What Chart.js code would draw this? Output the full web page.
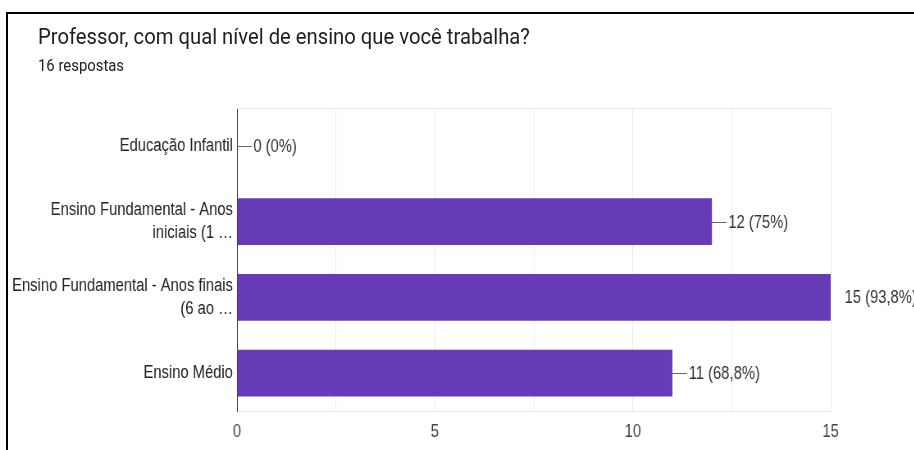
<!DOCTYPE html>
<html>
<head>
<meta charset="utf-8">
<script src="https://cdn.jsdelivr.net/npm/chart.js@4"></script>
<style>
  html, body { margin: 0; padding: 0; background: #fff; }
  #pagina { position: relative; width: 914px; height: 450px; overflow: hidden; }
  #moldura { position: absolute; left: 6px; top: 12px; right: -10px; bottom: -10px;
             border-top: 2px solid #000; border-left: 2px solid #000; }
  #titulo { position: absolute; left: 38px; top: 26px; font-family: Roboto, sans-serif;
            font-size: 22px; line-height: 22px; color: #202124; white-space: nowrap;
            transform: scaleX(0.92); transform-origin: left top; }
  #respostas { position: absolute; left: 38px; top: 58px; font-family: Roboto, sans-serif;
               font-size: 16px; line-height: 16px; color: #202124; white-space: nowrap;
               transform: scaleX(0.93); transform-origin: left top; }
  /* a imagem original está comprimida na horizontal, por isso o canvas é mais largo e encolhido */
  #grafico { position: absolute; left: 0; top: 0; width: 1115px; height: 450px;
             transform: scaleX(0.82); transform-origin: left top; }
</style>
</head>
<body>
<div id="pagina">
  <canvas id="grafico" width="1115" height="450"></canvas>
  <div id="moldura"></div>
  <div id="titulo">Professor, com qual nível de ensino que você trabalha?</div>
  <div id="respostas">16 respostas</div>
</div>
<script>
const categorias = [
    'Educação Infantil',
    ['Ensino Fundamental - Anos', 'iniciais (1 …'],
    ['Ensino Fundamental - Anos finais', '(6 ao …'],
    'Ensino Médio'
];
const respostas = [0, 12, 15, 11];
const rotulos = ['0 (0%)', '12 (75%)', '15 (93,8%)', '11 (68,8%)'];
const eixoMax = 15;

const fonte = "'Liberation Sans', Arial, sans-serif";

// rótulos de valor com o tracinho ligando à barra
const pluginRotulos = {
    id: 'rotulos',
    afterDatasetsDraw(chart) {
        const ctx = chart.ctx;
        const meta = chart.getDatasetMeta(0);
        ctx.save();
        ctx.font = '18px ' + fonte;
        ctx.textBaseline = 'middle';
        ctx.textAlign = 'left';
        meta.data.forEach((barra, i) => {
            const x = barra.x;
            const y = barra.y;
            if (respostas[i] >= eixoMax) {
                ctx.fillStyle = '#333';
                ctx.fillText(rotulos[i], x + 17, y + 1);
                return;
            }
            ctx.strokeStyle = '#666';
            ctx.lineWidth = 1;
            ctx.beginPath();
            ctx.moveTo(x, Math.round(y) + 0.5);
            ctx.lineTo(x + 18, Math.round(y) + 0.5);
            ctx.stroke();
            ctx.fillStyle = '#333';
            ctx.fillText(rotulos[i], x + 20, y + 1);
        });
        ctx.restore();
    }
};

// linha superior da área do gráfico
const pluginBordaTopo = {
    id: 'bordaTopo',
    beforeDatasetsDraw(chart) {
        const { ctx, chartArea } = chart;
        ctx.save();
        ctx.strokeStyle = '#ebebeb';
        ctx.lineWidth = 1;
        ctx.beginPath();
        ctx.moveTo(chartArea.left, chartArea.top + 0.5);
        ctx.lineTo(chartArea.right, chartArea.top + 0.5);
        ctx.stroke();
        ctx.restore();
    }
};

Chart.defaults.font.family = fonte;
Chart.defaults.font.size = 18;

new Chart(document.getElementById('grafico').getContext('2d'), {
    type: 'bar',
    data: {
        labels: categorias,
        datasets: [{
            data: respostas,
            backgroundColor: '#673ab7',
            borderWidth: 0,
            barPercentage: 0.62,
            categoryPercentage: 1
        }]
    },
    options: {
        indexAxis: 'y',
        responsive: false,
        animation: false,
        devicePixelRatio: 1,
        layout: { padding: { top: 108, right: 102, bottom: 0, left: 0 } },
        plugins: {
            legend: { display: false },
            tooltip: { enabled: false }
        },
        scales: {
            x: {
                min: 0,
                max: eixoMax,
                afterFit: (escala) => { escala.height = 39; },
                grid: {
                    drawTicks: false,
                    color: (c) => c.tick && c.tick.value === 0 ? 'rgba(0,0,0,0)' : '#ebebeb'
                },
                border: { color: '#ebebeb' },
                ticks: {
                    stepSize: 2.5,
                    autoSkip: false,
                    maxRotation: 0,
                    padding: 10,
                    color: '#444',
                    callback: (v) => v % 5 === 0 ? v : ''
                }
            },
            y: {
                afterFit: (escala) => { escala.width = 289; },
                grid: { display: false, drawTicks: false },
                border: { color: '#333', width: 1 },
                ticks: {
                    padding: 5,
                    color: '#222',
                    font: { lineHeight: 1.28 }
                }
            }
        }
    },
    plugins: [pluginBordaTopo, pluginRotulos]
});
</script>
</body>
</html>
